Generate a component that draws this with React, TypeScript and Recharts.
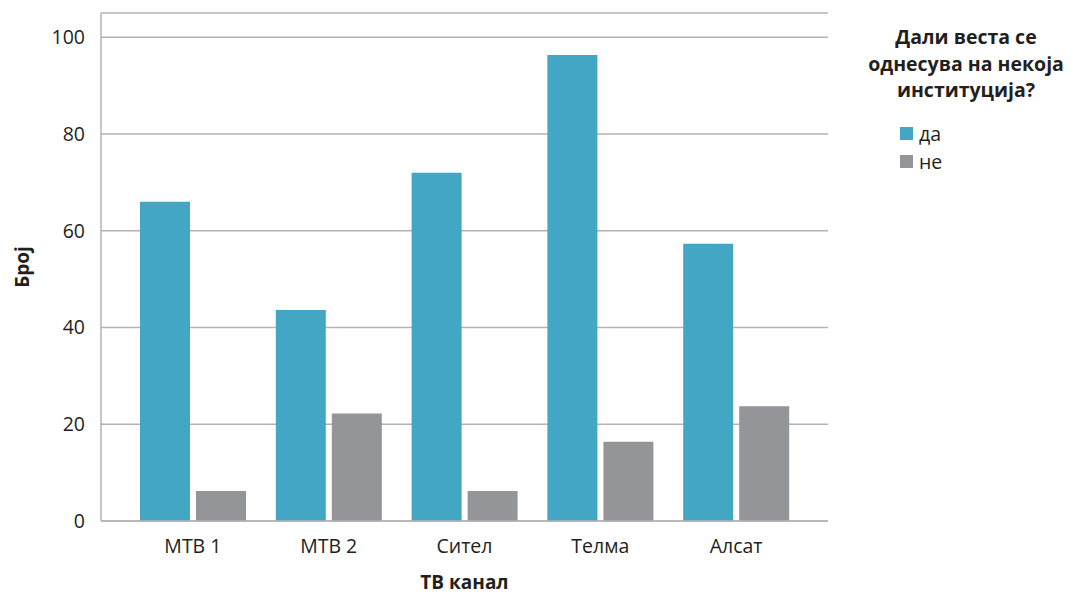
import React from "react";
import { BarChart, Bar, XAxis, YAxis, CartesianGrid, Legend, Label } from "recharts";

const categories = ["МТВ 1", "МТВ 2", "Сител", "Телма", "Алсат"];
const daValues = [66, 43.6, 72, 96.3, 57.3];
const neValues = [6.2, 22.2, 6.2, 16.4, 23.7];
const yTicks = [0, 20, 40, 60, 80, 100];

const seriesNames = { da: "да", ne: "не" };
const colors = { da: "#42A6C4", ne: "#939598" };

const data = categories.map((c, i) => ({ name: c, da: daValues[i], ne: neValues[i] }));

const FONT = "'Open Sans', 'Noto Sans', sans-serif";

const LegendContent = () => (
  <div style={{ fontFamily: FONT, color: "#231f20", width: 200 }}>
    <div style={{ fontWeight: 700, fontSize: 19.5, lineHeight: "26.5px", textAlign: "center" }}>
      Дали веста се
      <br />
      однесува на некоја
      <br />
      институција?
    </div>
    <div style={{ marginTop: 16, marginLeft: 34 }}>
      {(["da", "ne"] as const).map((k) => (
        <div key={k} style={{ display: "flex", alignItems: "center", height: 28, fontSize: 19.5 }}>
          <span style={{ display: "inline-block", width: 13, height: 13, background: colors[k], marginRight: 6 }} />
          <span>{seriesNames[k]}</span>
        </div>
      ))}
    </div>
  </div>
);

export default function App() {
  return (
    <div style={{ position: "absolute", left: 0, top: 0, width: 1073, height: 595, background: "#fff" }}>
      <BarChart
        width={1073}
        height={595}
        data={data}
        margin={{ top: 13, right: 245, left: 41, bottom: 44 }}
        barSize={50}
        barGap={6}
      >
        <CartesianGrid vertical={false} stroke="#b3b3b3" strokeWidth={1.5} />
        <XAxis
          dataKey="name"
          height={30}
          padding={{ left: 24, right: 24 }}
          tickLine={false}
          axisLine={{ stroke: "#b3b3b3", strokeWidth: 1.5 }}
          tick={{ fill: "#231f20", fontSize: 19.5, fontFamily: FONT }}
          tickMargin={12}
        >
          <Label
            value="ТВ канал"
            position="insideBottom"
            offset={-38}
            style={{ fontWeight: 700, fontSize: 19, fontFamily: FONT, fill: "#231f20" }}
          />
        </XAxis>
        <YAxis
          width={60}
          domain={[0, 105]}
          ticks={yTicks}
          tickLine={false}
          axisLine={{ stroke: "#b3b3b3", strokeWidth: 1.5 }}
          tick={{ fill: "#231f20", fontSize: 19.5, fontFamily: FONT }}
          tickMargin={10}
          interval={0}
        >
          <Label
            value="Број"
            angle={-90}
            position="insideLeft"
            offset={-19}
            style={{ fontWeight: 700, fontSize: 19, fontFamily: FONT, fill: "#231f20", textAnchor: "middle" }}
          />
        </YAxis>
        <Legend
          layout="horizontal"
          verticalAlign="middle"
          align="center"
          content={<LegendContent />}
          wrapperStyle={{ position: "absolute", left: 866, top: 24, width: 200 }}
        />
        <Bar dataKey="da" name={seriesNames.da} fill={colors.da} isAnimationActive={false} />
        <Bar dataKey="ne" name={seriesNames.ne} fill={colors.ne} isAnimationActive={false} />
      </BarChart>
    </div>
  );
}
